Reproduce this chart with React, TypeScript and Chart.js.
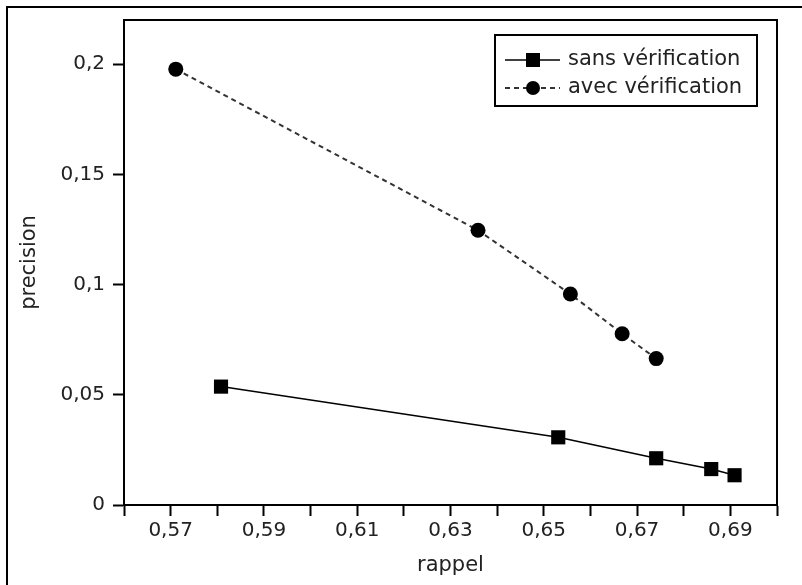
import React, { useEffect, useRef } from "react";
import { Chart, registerables } from "chart.js";

Chart.register(...registerables);

const seriesNames = ["sans vérification", "avec vérification"];
const sansRappel = [0.5808, 0.6531, 0.6741, 0.6859, 0.6909];
const sansPrecision = [0.0537, 0.0307, 0.0212, 0.0163, 0.0135];
const avecRappel = [0.5711, 0.6359, 0.6557, 0.6668, 0.6741];
const avecPrecision = [0.1977, 0.1246, 0.0957, 0.0777, 0.0664];
const xTickValues = [0.56, 0.57, 0.58, 0.59, 0.6, 0.61, 0.62, 0.63, 0.64, 0.65, 0.66, 0.67, 0.68, 0.69, 0.7];
const xTickLabels = ["", "0,57", "", "0,59", "", "0,61", "", "0,63", "", "0,65", "", "0,67", "", "0,69", ""];
const yTickValues = [0, 0.05, 0.1, 0.15, 0.2];
const yTickLabels = ["0", "0,05", "0,1", "0,15", "0,2"];

const FONT = "'DejaVu Sans', sans-serif";

const framePlugin = {
  id: "frame",
  beforeDraw(chart: any) {
    const ctx = chart.ctx;
    ctx.save();
    ctx.fillStyle = "#fff";
    ctx.fillRect(0, 0, chart.width, chart.height);
    ctx.strokeStyle = "#000";
    ctx.lineWidth = 2;
    ctx.beginPath();
    ctx.moveTo(7, chart.height);
    ctx.lineTo(7, 7);
    ctx.lineTo(chart.width, 7);
    ctx.stroke();
    ctx.restore();
  },
  afterDraw(chart: any) {
    const ctx = chart.ctx;
    const a = chart.chartArea;
    ctx.save();
    ctx.strokeStyle = "#000";
    ctx.lineWidth = 2;
    ctx.strokeRect(a.left, a.top, a.right - a.left, a.bottom - a.top);
    // legend
    const bx = 495, by = 35, bw = 262, bh = 71;
    ctx.fillStyle = "#fff";
    ctx.fillRect(bx, by, bw, bh);
    ctx.strokeRect(bx, by, bw, bh);
    const rows = [60, 88];
    chart.data.datasets.forEach((ds: any, i: number) => {
      const y = rows[i];
      ctx.save();
      ctx.strokeStyle = ds.borderColor;
      ctx.lineWidth = ds.borderWidth;
      ctx.setLineDash(ds.borderDash || []);
      ctx.beginPath();
      ctx.moveTo(505, y);
      ctx.lineTo(560, y);
      ctx.stroke();
      ctx.setLineDash([]);
      ctx.fillStyle = ds.pointBackgroundColor;
      if (ds.pointStyle === "rect") {
        ctx.fillRect(526, y - 7, 14, 14);
      } else {
        ctx.beginPath();
        ctx.arc(533, y, 7, 0, Math.PI * 2);
        ctx.fill();
      }
      ctx.fillStyle = "#222";
      ctx.font = "21px " + FONT;
      ctx.textBaseline = "middle";
      ctx.textAlign = "left";
      ctx.fillText(ds.label, 568, y);
      ctx.restore();
    });
    ctx.restore();
  },
};

export default function App() {
  const ref = useRef<HTMLCanvasElement | null>(null);
  useEffect(() => {
    if (!ref.current) return;
    const chart = new Chart(ref.current, {
      type: "scatter",
      data: {
        datasets: [
          {
            label: seriesNames[0],
            data: sansRappel.map((x, i) => ({ x, y: sansPrecision[i] })),
            showLine: true,
            borderColor: "#000",
            borderWidth: 1.5,
            pointStyle: "rect",
            pointRadius: 10,
            pointBackgroundColor: "#000",
            pointBorderColor: "#000",
            pointBorderWidth: 0,
          },
          {
            label: seriesNames[1],
            data: avecRappel.map((x, i) => ({ x, y: avecPrecision[i] })),
            showLine: true,
            borderColor: "#333",
            borderWidth: 2,
            borderDash: [5, 4],
            pointStyle: "circle",
            pointRadius: 7.5,
            pointBackgroundColor: "#000",
            pointBorderColor: "#000",
            pointBorderWidth: 0,
          },
        ] as any,
      },
      options: {
        animation: false,
        responsive: false,
        devicePixelRatio: 1,
        layout: { padding: { top: 17, right: 25, left: 0, bottom: 0 } },
        plugins: { legend: { display: false }, tooltip: { enabled: false } },
        scales: {
          x: {
            type: "linear",
            min: 0.56,
            max: 0.7,
            afterFit: (s: any) => { s.height = 80; },
            afterBuildTicks: (s: any) => { s.ticks = xTickValues.map((v) => ({ value: v })); },
            grid: { drawOnChartArea: false, tickLength: 11, tickColor: "#000", tickWidth: 2 },
            border: { display: true, color: "#000", width: 2 },
            ticks: {
              autoSkip: false,
              maxRotation: 0,
              padding: 3,
              color: "#222",
              font: { family: FONT, size: 20 },
              callback: (_v: any, i: number) => xTickLabels[i],
            },
            title: { display: true, text: "rappel", color: "#222", font: { family: FONT, size: 21 }, padding: { top: 0, bottom: 7 } },
          },
          y: {
            type: "linear",
            min: 0,
            max: 0.22,
            afterFit: (s: any) => { s.width = 124; },
            afterBuildTicks: (s: any) => { s.ticks = yTickValues.map((v) => ({ value: v })); },
            grid: { drawOnChartArea: false, tickLength: 11, tickColor: "#000", tickWidth: 2 },
            border: { display: true, color: "#000", width: 2 },
            ticks: {
              autoSkip: false,
              padding: 8,
              color: "#222",
              font: { family: FONT, size: 20 },
              callback: (_v: any, i: number) => yTickLabels[i],
            },
            title: { display: true, text: "precision", color: "#222", font: { family: FONT, size: 21 }, padding: { top: 17, bottom: 0 } },
          },
        },
      },
      plugins: [framePlugin],
    });
    return () => chart.destroy();
  }, []);
  return (
    <div style={{ position: "absolute", left: 0, top: 0, width: 802, height: 585 }}>
      <canvas ref={ref} width={802} height={585} style={{ width: 802, height: 585, display: "block" }} />
    </div>
  );
}
